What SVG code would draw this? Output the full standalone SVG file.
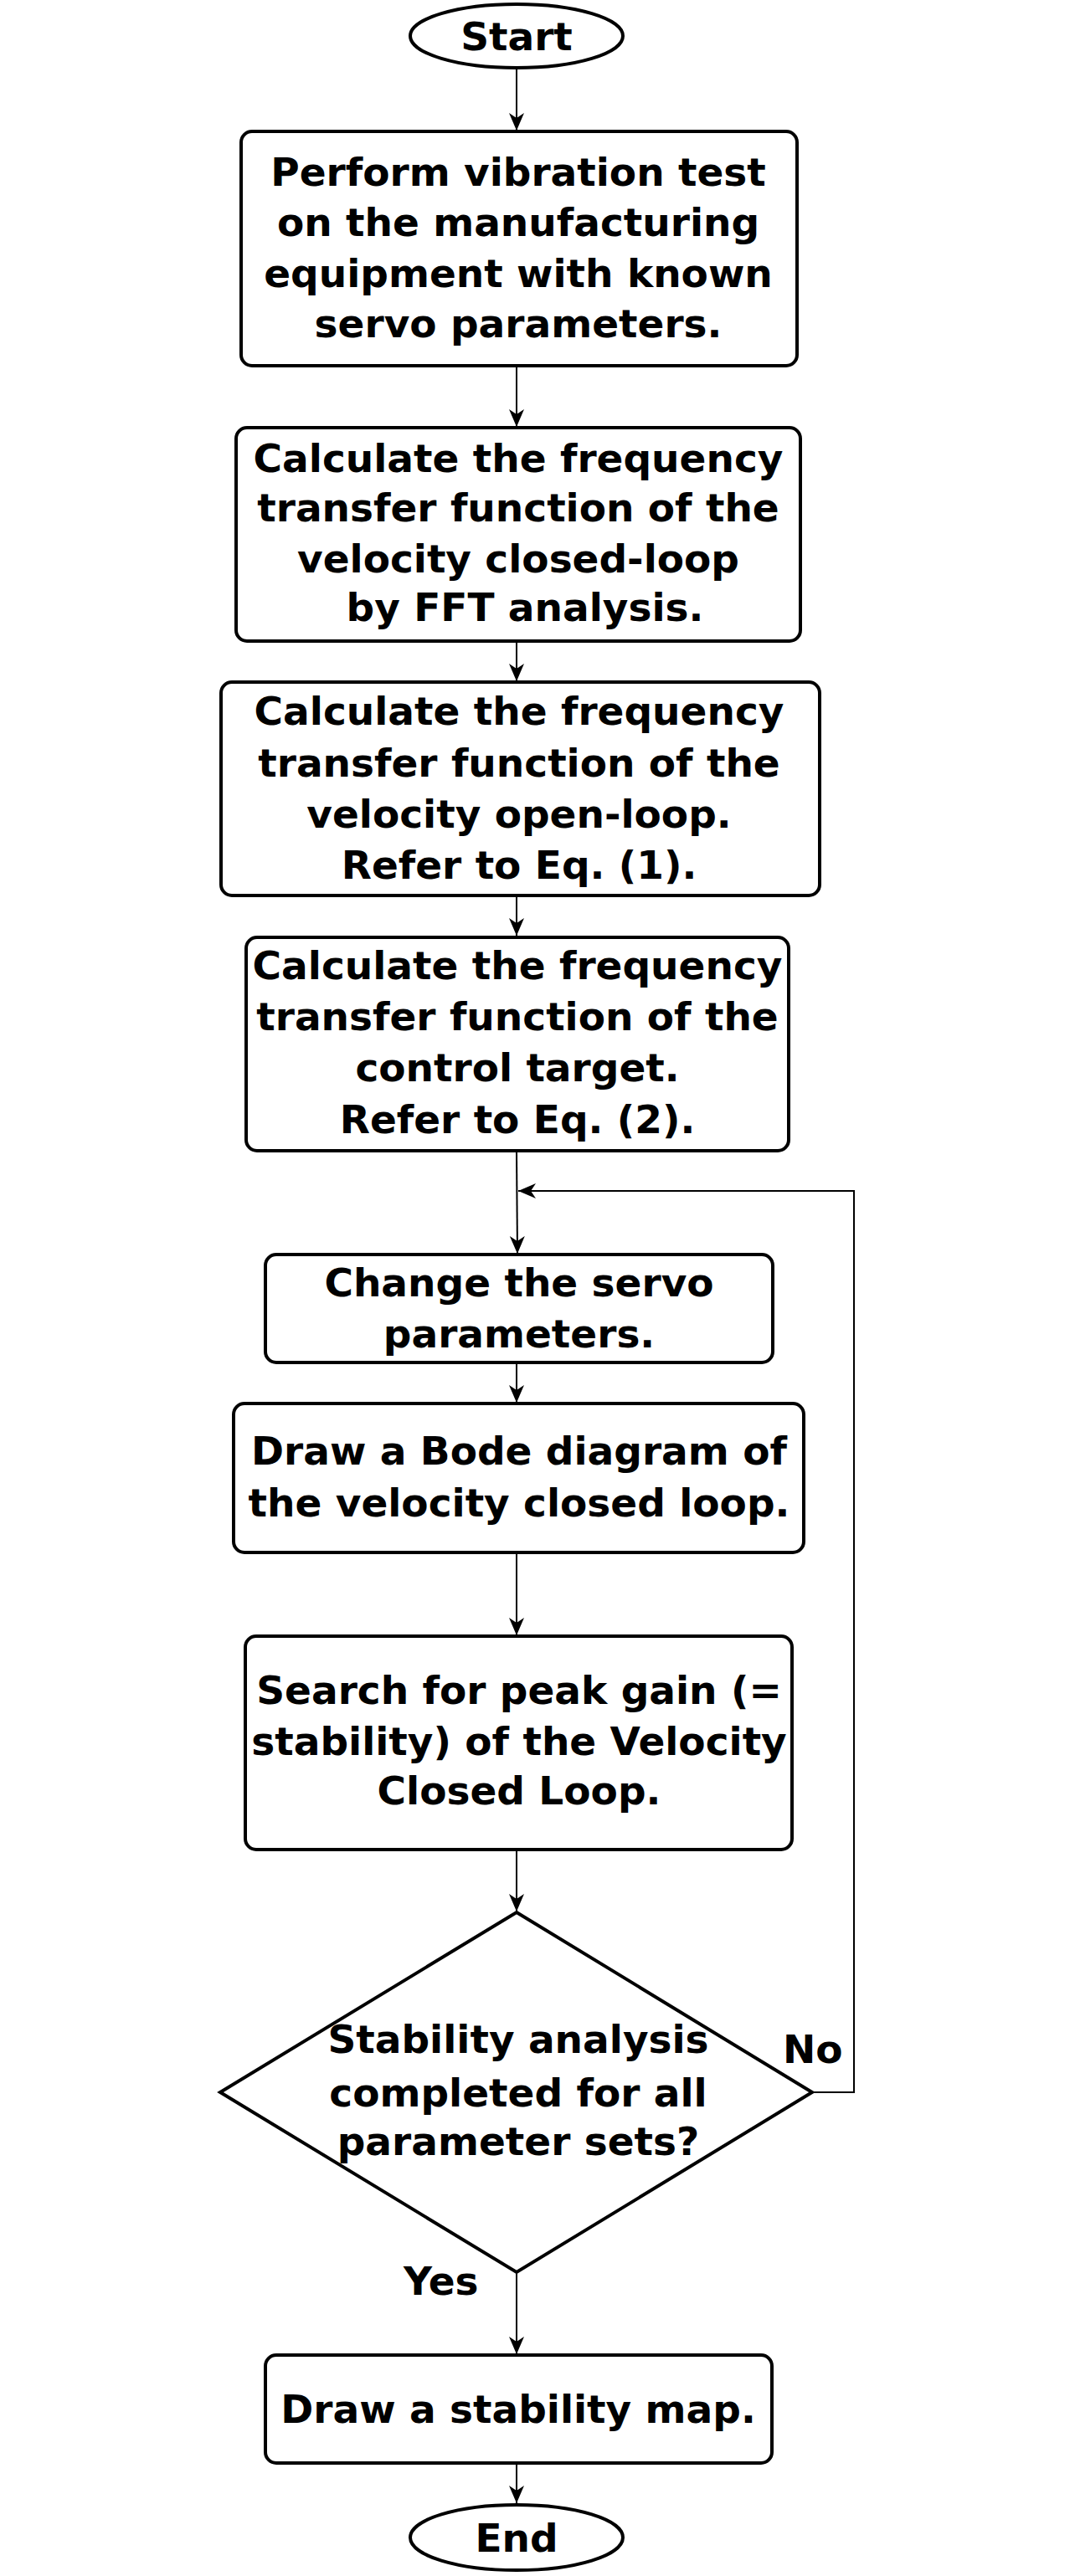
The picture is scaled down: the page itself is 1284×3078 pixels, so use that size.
<svg xmlns="http://www.w3.org/2000/svg" width="1284" height="3078" viewBox="0 0 1284 3078">
<style>
.n{fill:#fff;stroke:#000;stroke-width:4}
.t{font-family:"DejaVu Sans","Liberation Sans",sans-serif;font-weight:bold;font-size:47px;fill:#000;text-anchor:middle}
.l{font-family:"DejaVu Sans","Liberation Sans",sans-serif;font-weight:bold;font-size:47px;fill:#000}
.c{fill:none;stroke:#000;stroke-width:2}
</style>
<defs>
<marker id="a" markerUnits="userSpaceOnUse" markerWidth="22" markerHeight="20" viewBox="0 0 22 20" refX="21" refY="10" orient="auto">
<path d="M0,1 L21,10 L0,19 L6,10 Z" fill="#000"/>
</marker>
</defs>
<rect width="1284" height="3078" fill="#fff"/>
<g id="connectors">
<line class="c" x1="617" y1="81" x2="617" y2="156" marker-end="url(#a)"/>
<line class="c" x1="617" y1="437" x2="617" y2="510" marker-end="url(#a)"/>
<line class="c" x1="617" y1="766" x2="617" y2="814" marker-end="url(#a)"/>
<line class="c" x1="617" y1="1070" x2="617" y2="1118" marker-end="url(#a)"/>
<line class="c" x1="617" y1="1375" x2="618" y2="1498" marker-end="url(#a)"/>
<line class="c" x1="617" y1="1628" x2="617" y2="1676" marker-end="url(#a)"/>
<line class="c" x1="617" y1="1855" x2="617" y2="1954" marker-end="url(#a)"/>
<line class="c" x1="617" y1="2210" x2="617" y2="2284" marker-end="url(#a)"/>
<line class="c" x1="617" y1="2715" x2="617" y2="2813" marker-end="url(#a)"/>
<line class="c" x1="617" y1="2943" x2="617" y2="2991" marker-end="url(#a)"/>
<polyline class="c" points="970,2500 1020,2500 1020,1423 619,1423" marker-end="url(#a)"/>
<text class="l" x="935" y="2465">No</text>
<text class="l" x="482" y="2742">Yes</text>
</g>
<g id="start">
<ellipse class="n" cx="617" cy="43" rx="127" ry="38"/>
<text class="t" x="617" y="60">Start</text>
</g>
<g id="step1">
<rect class="n" x="288" y="157" width="664" height="280" rx="13"/>
<text class="t" x="619" y="222">Perform vibration test</text>
<text class="t" x="619" y="282">on the manufacturing</text>
<text class="t" x="619" y="343">equipment with known</text>
<text class="t" x="619" y="403">servo parameters.</text>
</g>
<g id="step2">
<rect class="n" x="282" y="511" width="674" height="255" rx="13"/>
<text class="t" x="619" y="564">Calculate the frequency</text>
<text class="t" x="619" y="623">transfer function of the</text>
<text class="t" x="619" y="684">velocity closed-loop</text>
<text class="t" x="627" y="742">by FFT analysis.</text>
</g>
<g id="step3">
<rect class="n" x="264" y="815" width="715" height="255" rx="13"/>
<text class="t" x="620" y="866">Calculate the frequency</text>
<text class="t" x="620" y="928">transfer function of the</text>
<text class="t" x="620" y="989">velocity open-loop.</text>
<text class="t" x="620" y="1050">Refer to Eq. (1).</text>
</g>
<g id="step4">
<rect class="n" x="294" y="1120" width="648" height="255" rx="13"/>
<text class="t" x="618" y="1170">Calculate the frequency</text>
<text class="t" x="618" y="1231">transfer function of the</text>
<text class="t" x="618" y="1292">control target.</text>
<text class="t" x="618" y="1354">Refer to Eq. (2).</text>
</g>
<g id="step5">
<rect class="n" x="317" y="1499" width="606" height="129" rx="13"/>
<text class="t" x="620" y="1549">Change the servo</text>
<text class="t" x="620" y="1610">parameters.</text>
</g>
<g id="step6">
<rect class="n" x="279" y="1677" width="681" height="178" rx="13"/>
<text class="t" x="620" y="1750">Draw a Bode diagram of</text>
<text class="t" x="620" y="1812">the velocity closed loop.</text>
</g>
<g id="step7">
<rect class="n" x="293" y="1955" width="653" height="255" rx="13"/>
<text class="t" x="620" y="2036">Search for peak gain (=</text>
<text class="t" x="620" y="2097">stability) of the Velocity</text>
<text class="t" x="620" y="2156">Closed Loop.</text>
</g>
<g id="decision">
<polygon class="n" points="617,2285 970,2500 617,2715 263,2500"/>
<text class="t" x="619" y="2453">Stability analysis</text>
<text class="t" x="619" y="2517">completed for all</text>
<text class="t" x="619" y="2575">parameter sets?</text>
</g>
<g id="step8">
<rect class="n" x="317" y="2814" width="605" height="129" rx="13"/>
<text class="t" x="619" y="2895">Draw a stability map.</text>
</g>
<g id="end">
<ellipse class="n" cx="617" cy="3032" rx="127" ry="39"/>
<text class="t" x="617" y="3049">End</text>
</g>
</svg>
